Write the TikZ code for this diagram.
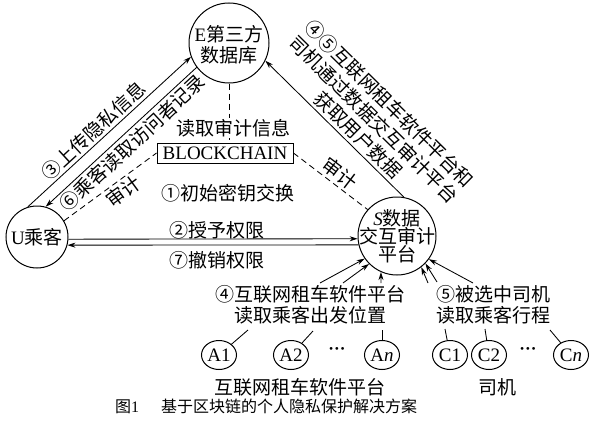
\documentclass[tikz,border=0pt]{standalone}
\usepackage{fontspec}
\setmainfont{Liberation Serif}
\newfontfamily\cjk{Noto Sans CJK SC}
\usetikzlibrary{arrows.meta,shapes.geometric}
\begin{document}
\begin{tikzpicture}[x=1pt,y=-1pt,
  every node/.style={font=\cjk\fontsize{19}{21}\selectfont, inner sep=0pt},
  bigcirc/.style={circle, draw, line width=1pt},
  smallell/.style={ellipse, draw, line width=1pt, minimum width=35pt, minimum height=29pt, font=\rmfamily\fontsize{19}{21}\selectfont},
  conn/.style={line width=0.85pt},
  tip/.style={-{Stealth[length=8pt,width=5pt]}},
  arr/.style={conn, tip},
  rarr/.style={conn, {Stealth[length=8pt,width=5pt]}-},
  dsh/.style={line width=0.85pt, dash pattern=on 6pt off 4pt},
  lbl/.style={inner sep=2.5pt},
  dotsnode/.style={font=\rmfamily\bfseries\fontsize{17}{17}\selectfont},
]
\useasboundingbox (0,0) rectangle (590,423);

% main circles
\node[bigcirc, minimum size=80pt] (E) at (229,43) {};
\node[align=center] (Et) at (229,45) {{\rmfamily E}第三方\\数据库};
\node[bigcirc, minimum size=62pt] (U) at (37,237) {{\rmfamily U}乘客};
\node[bigcirc, minimum size=78pt] (S) at (397,236) {};
\node[align=center, font=\cjk\fontsize{19}{18}\selectfont] (St) at (397,236) {{\rmfamily\itshape S}数据\\交互审计\\平台};

% blockchain box
\node[draw, line width=0.9pt, minimum width=136pt, minimum height=20pt,
      font=\rmfamily\fontsize{19}{21}\selectfont] (box) at (225,153) {BLOCKCHAIN};

% dashed audit links
\draw[dsh] (E) -- (E |- box.north);
\node[fill=white, inner sep=1pt] (read) at (233,128) {读取审计信息};
\draw[dsh] (U.31) -- node[sloped, below, pos=0.57, lbl] {审计} (box.west);
\draw[dsh] (box.east) -- node[sloped, above, pos=0.53, lbl] {审计} (S.138);

\node (init) at (228,193) {①初始密钥交换};

% U <-> E
\draw[arr] (U.107) -- node[sloped, above, pos=0.45, lbl] {③上传隐私信息} (E.200);
\draw[rarr] (U.74) -- node[sloped, below, pos=0.52, lbl] {⑥乘客读取访问者记录} (E.217);

% S -> E
\draw[rarr] (E.334) -- node[sloped, above, pos=0.61, align=center, inner sep=3pt,
    font=\cjk\fontsize{19}{22}\selectfont]
  {④⑤互联网租车软件平台和\\司机通过数据交互审计平台\\获取用户数据} (S.80);

% U <-> S
\draw[arr] (U.-4) -- (S.184.5);
\draw[rarr] (U.-15) -- (S.193);
\node (grant) at (217,230) {②授予权限};
\node (revoke) at (217,260) {⑦撤销权限};

% bottom text blocks
\node[align=center, font=\cjk\fontsize{19}{20.5}\selectfont] (T4) at (310,305) {④互联网租车软件平台\\读取乘客出发位置};
\node[align=center, font=\cjk\fontsize{19}{20.5}\selectfont] (T5) at (493,305) {⑤被选中司机\\读取乘客行程};

% bottom nodes
\node[smallell] (A1) at (219,355) {A1};
\node[smallell] (A2) at (291,355) {A2};
\node[smallell] (An) at (382,355) {A\textit{n}};
\node[smallell] (C1) at (450,355) {C1};
\node[smallell] (C2) at (489,355) {C2};
\node[smallell] (Cn) at (571,355) {C\textit{n}};
\node[dotsnode] (d1) at (337,351) {···};
\node[dotsnode] (d2) at (528,351) {···};

% stubs from nodes to text
\coordinate (a1t) at (248,330);
\coordinate (a2t) at (313,331);
\coordinate (ant) at (382,330);
\coordinate (c1t) at (445,329);
\coordinate (c2t) at (485,329);
\coordinate (cnt) at (550,330);
\draw[conn] (A1) -- (a1t);
\draw[conn] (A2) -- (a2t);
\draw[conn] (An) -- (ant);
\draw[conn] (C1) -- (c1t);
\draw[conn] (C2) -- (c2t);
\draw[conn] (Cn) -- (cnt);

% arrows from text to S
\coordinate (a1s) at (320,283);
\coordinate (a2s) at (343,283);
\coordinate (ans) at (381,283);
\coordinate (c1s) at (428,283);
\coordinate (c2s) at (437,282);
\coordinate (cns) at (473,283);
\draw[arr] (a1s) -- (S.215);
\draw[arr] (a2s) -- (S.225);
\draw[arr] (ans) -- (S.246);
\draw[arr] (c1s) -- (S.308);
\draw[arr] (c2s) -- (S.316);
\draw[arr] (cns) -- (S.324);

% group labels
\node (plat) at (300,387) {互联网租车软件平台};
\node (drv) at (497,387) {司机};

% caption
\node[anchor=west, font=\cjk\fontsize{16}{18}\selectfont] (cap) at (115,406)
  {图{\rmfamily 1}\hspace{22pt}基于区块链的个人隐私保护解决方案};
\end{tikzpicture}
\end{document}
